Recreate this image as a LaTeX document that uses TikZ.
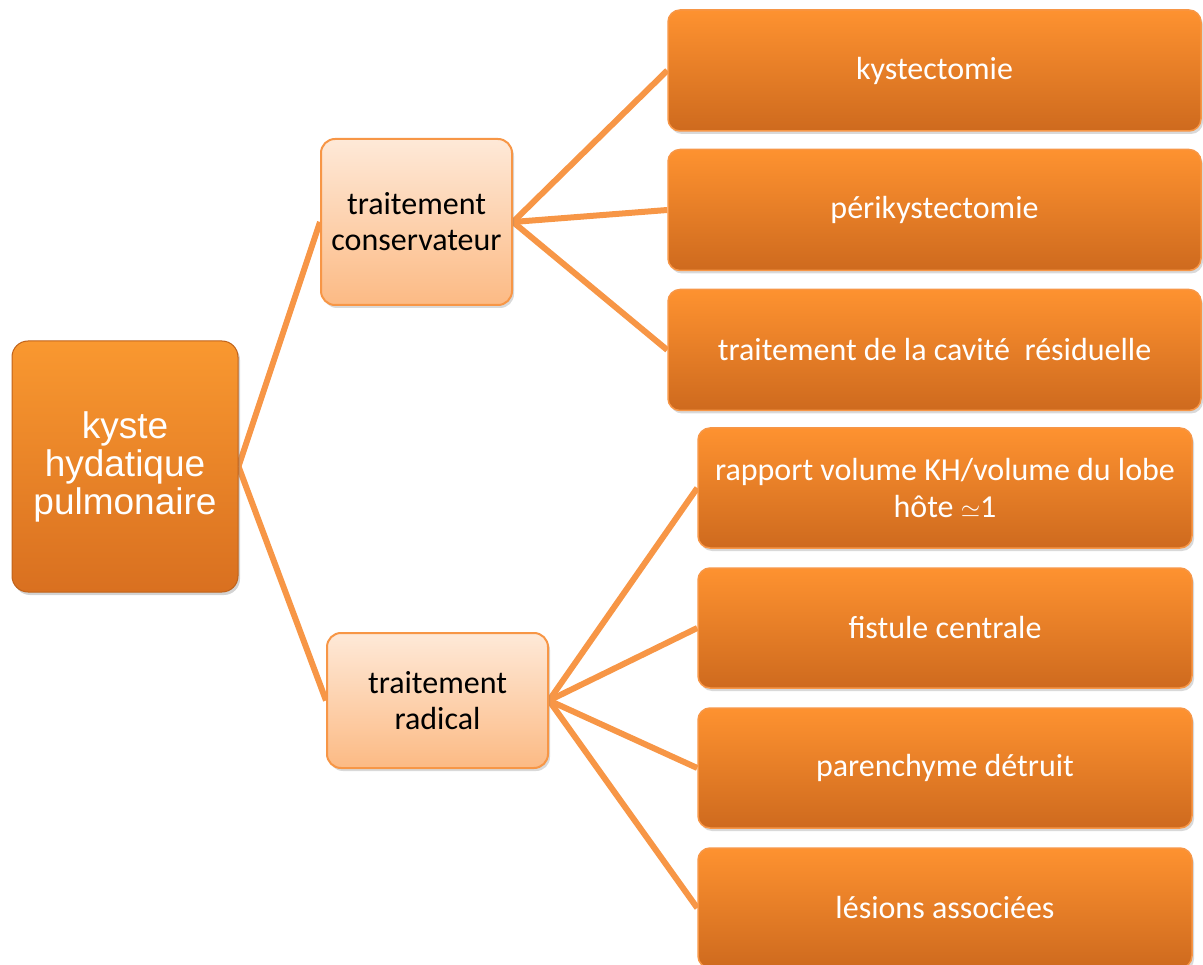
\documentclass[tikz,border=0pt]{standalone}
\usepackage{fontspec}
\setmainfont{Carlito}
\newfontfamily\arialfont{Liberation Sans}
\usetikzlibrary{shadows,backgrounds}
\definecolor{accent}{HTML}{F79646}
\definecolor{rootTop}{HTML}{F99830}
\definecolor{rootBot}{HTML}{D97020}
\definecolor{rootEdge}{HTML}{C0621A}
\definecolor{leafTop}{HTML}{FE9230}
\definecolor{leafBot}{HTML}{CE6A1E}
\definecolor{midTop}{HTML}{FEE9D8}
\definecolor{midBot}{HTML}{FCBA84}
\tikzset{
  rootbox/.style={draw=rootEdge, line width=1pt, rounded corners=16pt, top color=rootTop, bottom color=rootBot,
    text=white, align=center, inner sep=0pt, font=\arialfont\fontsize{37}{38}\selectfont,
    drop shadow={shadow xshift=2pt, shadow yshift=-3pt, opacity=0.35}},
  midbox/.style={draw=accent, line width=2pt, rounded corners=14pt, top color=midTop, bottom color=midBot,
    text=black, align=center, inner sep=0pt, font=\fontsize{32}{36}\selectfont,
    drop shadow={shadow xshift=2pt, shadow yshift=-3pt, opacity=0.3}},
  leafbox/.style={draw=accent, line width=1.5pt, rounded corners=12pt, top color=leafTop, bottom color=leafBot,
    text=white, align=center, inner sep=0pt, font=\fontsize{32}{37}\selectfont,
    drop shadow={shadow xshift=2pt, shadow yshift=-3pt, opacity=0.3}},
  conn/.style={draw=accent, line width=6pt}
}
\begin{document}
\begin{tikzpicture}[x=1pt,y=-1pt]
\useasboundingbox (0,0) rectangle (1203,965);
\node[rootbox, minimum width=226pt, minimum height=251pt] (root) at (125,466.5) {kyste\\hydatique\\pulmonaire};
\node[midbox, minimum width=191pt, minimum height=166pt] (cons) at (416.5,222) {traitement\\conservateur};
\node[midbox, minimum width=221pt, minimum height=135pt] (rad) at (437.5,700.5) {traitement\\radical};
\node[leafbox, minimum width=533pt, minimum height=121pt] (c1) at (934.5,70.5) {kystectomie};
\node[leafbox, minimum width=533pt, minimum height=121pt] (c2) at (934.5,210) {périkystectomie};
\node[leafbox, minimum width=533pt, minimum height=121pt] (c3) at (934.5,350) {traitement de la cavité\ \ résiduelle};
\node[leafbox, minimum width=494pt, minimum height=120pt] (r1) at (945,488) {rapport volume KH/volume du lobe\\hôte $\simeq$1};
\node[leafbox, minimum width=494pt, minimum height=120pt] (r2) at (945,628) {fistule centrale};
\node[leafbox, minimum width=494pt, minimum height=120pt] (r3) at (945,768) {parenchyme détruit};
\node[leafbox, minimum width=494pt, minimum height=120pt] (r4) at (945,908) {lésions associées};
\begin{pgfonlayer}{background}
\draw[conn] (root.east) -- (cons.west);
\draw[conn] (root.east) -- (rad.west);
\draw[conn] (cons.east) -- (c1.west);
\draw[conn] (cons.east) -- (c2.west);
\draw[conn] (cons.east) -- (c3.west);
\draw[conn] (rad.east) -- (r1.west);
\draw[conn] (rad.east) -- (r2.west);
\draw[conn] (rad.east) -- (r3.west);
\draw[conn] (rad.east) -- (r4.west);
\end{pgfonlayer}
\end{tikzpicture}
\end{document}
